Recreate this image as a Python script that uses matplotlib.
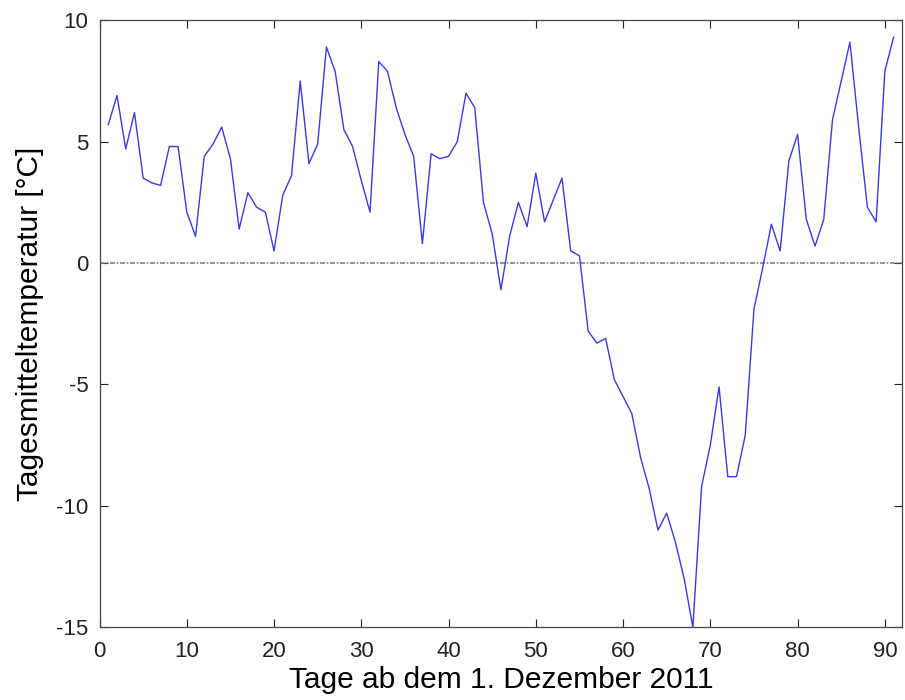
import matplotlib
matplotlib.use("Agg")
import matplotlib.pyplot as plt
import numpy as np

plt.rcParams["font.family"] = ["Liberation Sans", "DejaVu Sans"]
plt.rcParams["axes.unicode_minus"] = False

# Tagesmitteltemperaturen ab 1. Dezember 2011 (Tag 1..91)
days = np.arange(1, 92)
temps = [
    5.7, 6.9, 4.7, 6.2, 3.5, 3.3, 3.2, 4.8, 4.8, 2.1,
    1.1, 4.4, 4.9, 5.6, 4.3, 1.4, 2.9, 2.3, 2.1, 0.5,
    2.8, 3.6, 7.5, 4.1, 4.9, 8.9, 7.9, 5.5, 4.8, 3.4,
    2.1, 8.3, 7.9, 6.4, 5.3, 4.4, 0.8, 4.5, 4.3, 4.4,
    5.0, 7.0, 6.4, 2.5, 1.2, -1.1, 1.1, 2.5, 1.5, 3.7,
    1.7, 2.6, 3.5, 0.5, 0.3, -2.8, -3.3, -3.1, -4.8, -5.5,
    -6.2, -8.0, -9.3, -11.0, -10.3, -11.5, -13.0, -15.0, -9.2, -7.5,
    -5.1, -8.8, -8.8, -7.1, -1.9, -0.2, 1.6, 0.5, 4.2, 5.3,
    1.8, 0.7, 1.8, 5.9, 7.5, 9.1, 5.6, 2.3, 1.7, 7.9,
    9.3,
]
x_ticks = [0, 10, 20, 30, 40, 50, 60, 70, 80, 90]
y_ticks = [-15, -10, -5, 0, 5, 10]

fig = plt.figure(figsize=(9.05, 7.0), dpi=100)
ax = fig.add_axes([0.110, 0.104, 0.887, 0.867])

ax.axhline(0, color="#808080", lw=1.2, ls=(0, (3, 1, 1, 1)))
ax.plot(days, temps, color="#3a3ae0", lw=1.0)

ax.set_xlim(0, 92)
ax.set_ylim(-15, 10)
ax.set_xticks(x_ticks)
ax.set_yticks(y_ticks)
ax.tick_params(direction="in", top=True, right=True, length=6, width=0.8,
               labelsize=16, colors="#222222")
ax.tick_params(axis="x", pad=10)
ax.tick_params(axis="y", pad=8)
for s in ax.spines.values():
    s.set_color("#444444")
    s.set_linewidth(0.9)

ax.set_xlabel("Tage ab dem 1. Dezember 2011", fontsize=21.5, labelpad=3)
ax.set_ylabel("Tagesmitteltemperatur [°C]", fontsize=21.5, labelpad=9)

fig.savefig("out.png", dpi=100)
